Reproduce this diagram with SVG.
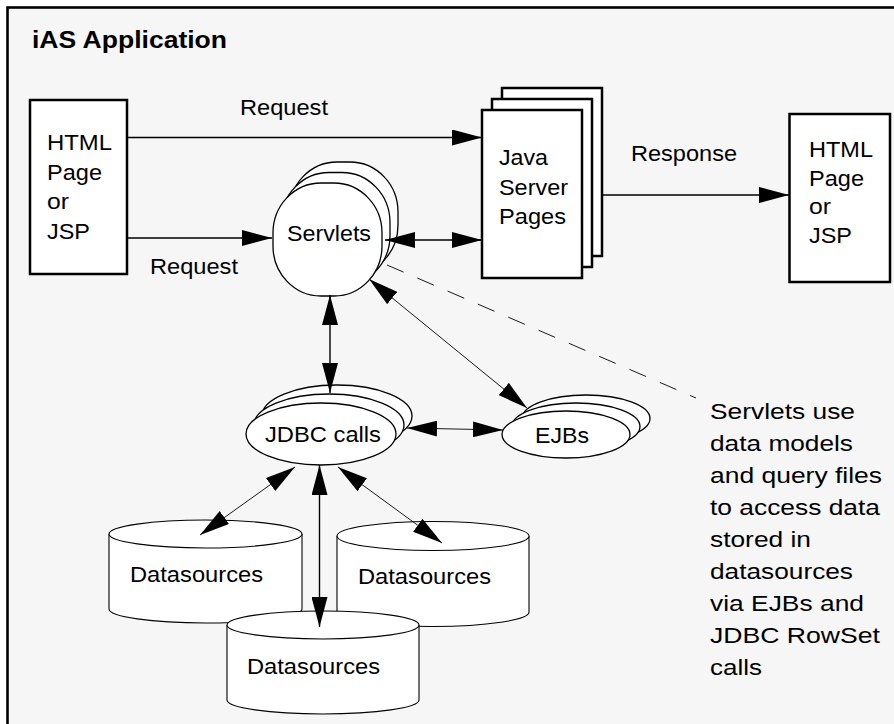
<svg xmlns="http://www.w3.org/2000/svg" width="894" height="724" viewBox="0 0 894 724">
  <defs>
    <marker id="arrow" markerUnits="userSpaceOnUse" markerWidth="30" markerHeight="16" viewBox="0 0 30 16" refX="30" refY="8" orient="auto-start-reverse">
      <path d="M0,0 L30,8 L0,16 z" fill="#000"/>
    </marker>
    <style>
      text { font-family: "Liberation Sans", Arial, Helvetica, sans-serif; font-size: 22.5px; fill: #000; }
      .title { font-weight: bold; font-size: 24px; }
      .box { fill: #fff; stroke: #000; stroke-width: 2.5; }
      .shape { fill: #fff; stroke: #000; stroke-width: 1.3; }
      .db { fill: #fff; stroke: #000; stroke-width: 1.1; }
      .line { fill: none; stroke: #000; stroke-width: 1.4; }
      .thin { fill: none; stroke: #000; stroke-width: 0.9; }
      .dash { fill: none; stroke: #000; stroke-width: 0.9; stroke-dasharray: 18 15; }
      .one { marker-end: url(#arrow); }
      .two { marker-start: url(#arrow); marker-end: url(#arrow); }
    </style>
  </defs>

  <rect width="894" height="724" fill="#fff"/>

  <!-- application frame -->
  <g id="frame">
    <rect x="7.5" y="7.5" width="900" height="730" fill="#f6f6f6" stroke="#000" stroke-width="2.6"/>
    <text class="title" x="32" y="48" textLength="195" lengthAdjust="spacingAndGlyphs">iAS Application</text>
  </g>

  <!-- incoming page -->
  <g id="html-in">
    <rect class="box" x="30" y="100" width="97" height="174"/>
    <text x="47" y="150" textLength="65" lengthAdjust="spacingAndGlyphs">HTML</text>
    <text x="47" y="179.5" textLength="55" lengthAdjust="spacingAndGlyphs">Page</text>
    <text x="47" y="209" textLength="22" lengthAdjust="spacingAndGlyphs">or</text>
    <text x="47" y="238.5" textLength="43" lengthAdjust="spacingAndGlyphs">JSP</text>
  </g>

  <!-- Java Server Pages stack -->
  <g id="jsp">
    <rect class="box" x="502" y="88" width="100" height="168"/>
    <rect class="box" x="492" y="99" width="100" height="168"/>
    <rect class="box" x="482" y="110" width="100" height="168"/>
    <text x="499" y="165" textLength="49" lengthAdjust="spacingAndGlyphs">Java</text>
    <text x="499" y="195" textLength="69" lengthAdjust="spacingAndGlyphs">Server</text>
    <text x="499" y="224" textLength="67" lengthAdjust="spacingAndGlyphs">Pages</text>
  </g>

  <!-- outgoing page -->
  <g id="html-out">
    <rect class="box" x="789.5" y="114" width="100.5" height="168"/>
    <text x="809" y="157" textLength="64" lengthAdjust="spacingAndGlyphs">HTML</text>
    <text x="809" y="185.5" textLength="55" lengthAdjust="spacingAndGlyphs">Page</text>
    <text x="809" y="214" textLength="22" lengthAdjust="spacingAndGlyphs">or</text>
    <text x="809" y="243" textLength="43" lengthAdjust="spacingAndGlyphs">JSP</text>
  </g>

  <!-- Servlets stack -->
  <g id="servlets">
    <rect class="shape" x="289" y="162" width="109" height="113" rx="48" ry="50"/>
    <rect class="shape" x="281" y="172.5" width="109" height="113" rx="48" ry="50"/>
    <rect class="shape" x="273" y="183" width="109" height="113" rx="48" ry="50"/>
    <text x="287" y="241" textLength="84" lengthAdjust="spacingAndGlyphs">Servlets</text>
  </g>

  <!-- JDBC calls stack -->
  <g id="jdbc">
    <ellipse class="shape" cx="337" cy="416" rx="75" ry="31"/>
    <ellipse class="shape" cx="329" cy="425" rx="75" ry="31"/>
    <ellipse class="shape" cx="321" cy="434" rx="75" ry="31"/>
    <text x="265" y="442" textLength="116" lengthAdjust="spacingAndGlyphs">JDBC calls</text>
  </g>

  <!-- EJBs stack -->
  <g id="ejbs">
    <ellipse class="shape" cx="586" cy="418.5" rx="64" ry="23.5"/>
    <ellipse class="shape" cx="576" cy="426.5" rx="64" ry="23.5"/>
    <ellipse class="shape" cx="566" cy="434.5" rx="64" ry="23.5"/>
    <text x="535" y="443" textLength="54" lengthAdjust="spacingAndGlyphs">EJBs</text>
  </g>

  <!-- datasource cylinders -->
  <g id="ds-left">
    <path class="db" d="M109,534 V609 A96.5,14 0 0 0 302,609 V534"/>
    <ellipse class="db" cx="205.5" cy="534" rx="96.5" ry="14"/>
    <text x="130" y="582" textLength="133" lengthAdjust="spacingAndGlyphs">Datasources</text>
  </g>
  <g id="ds-right">
    <path class="db" d="M337,536 V612 A96,14.5 0 0 0 529,612 V536"/>
    <ellipse class="db" cx="433" cy="536" rx="96" ry="14.5"/>
    <text x="358" y="584" textLength="133" lengthAdjust="spacingAndGlyphs">Datasources</text>
  </g>
  <g id="ds-bottom">
    <path class="db" d="M227,625 V700 A96,14 0 0 0 419,700 V625"/>
    <ellipse class="db" cx="323" cy="625" rx="96" ry="14"/>
    <text x="247" y="674" textLength="133" lengthAdjust="spacingAndGlyphs">Datasources</text>
  </g>

  <!-- explanatory note -->
  <g id="note">
    <text x="710" y="419" textLength="145" lengthAdjust="spacingAndGlyphs">Servlets use</text>
    <text x="710" y="451" textLength="143" lengthAdjust="spacingAndGlyphs">data models</text>
    <text x="710" y="483" textLength="172" lengthAdjust="spacingAndGlyphs">and query files</text>
    <text x="710" y="515" textLength="170" lengthAdjust="spacingAndGlyphs">to access data</text>
    <text x="710" y="547" textLength="101" lengthAdjust="spacingAndGlyphs">stored in</text>
    <text x="710" y="579" textLength="143" lengthAdjust="spacingAndGlyphs">datasources</text>
    <text x="710" y="611" textLength="154" lengthAdjust="spacingAndGlyphs">via EJBs and</text>
    <text x="710" y="643" textLength="170" lengthAdjust="spacingAndGlyphs">JDBC RowSet</text>
    <text x="710" y="675" textLength="52" lengthAdjust="spacingAndGlyphs">calls</text>
  </g>

  <!-- connectors -->
  <g id="connectors">
    <line class="line one" x1="127" y1="137.5" x2="482" y2="137.5"/>
    <text x="240" y="115" textLength="88" lengthAdjust="spacingAndGlyphs">Request</text>
    <line class="line one" x1="127" y1="238" x2="272" y2="238"/>
    <text x="150" y="274" textLength="88" lengthAdjust="spacingAndGlyphs">Request</text>
    <line class="line one" x1="602" y1="195" x2="789" y2="195"/>
    <text x="631" y="161" textLength="106" lengthAdjust="spacingAndGlyphs">Response</text>
    <line class="line two" x1="385" y1="240" x2="482" y2="240"/>
    <line class="line two" x1="330" y1="295" x2="330" y2="393"/>
    <line class="thin two" x1="369" y1="279" x2="527" y2="408"/>
    <line class="thin two" x1="407" y1="428" x2="503" y2="430"/>
    <line class="thin two" x1="295" y1="467" x2="200" y2="535"/>
    <line class="line two" x1="319.5" y1="465" x2="319.5" y2="627"/>
    <line class="thin two" x1="338" y1="467" x2="442" y2="543"/>
    <line class="dash" x1="387" y1="265" x2="696" y2="398"/>
  </g>
</svg>
